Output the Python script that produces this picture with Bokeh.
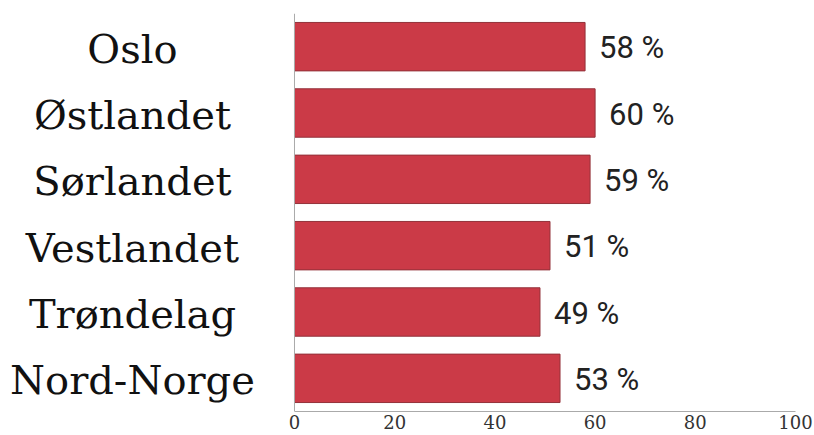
from bokeh.plotting import figure
from bokeh.models import FactorRange, Range1d, Span, ColumnDataSource, FixedTicker
from bokeh.core.properties import value
from bokeh.embed import file_html
from bokeh.resources import INLINE

regions = ["Oslo", "Østlandet", "Sørlandet", "Vestlandet", "Trøndelag", "Nord-Norge"]
shares = [58, 60, 59, 51, 49, 53]
tick_values = [0, 20, 40, 60, 80, 100]

labels = [f"{v} %" for v in shares]
LABEL_X = -32.34

src = ColumnDataSource(dict(region=regions, share=shares, label=labels,
                            lx=[LABEL_X] * len(regions)))

p = figure(width=814, height=435, output_backend="svg", toolbar_location=None,
           y_range=FactorRange(factors=regions[::-1], range_padding=0),
           x_range=Range1d(-58.68, 100),
           min_border_left=0, min_border_right=19, min_border_top=13,
           min_border_bottom=24)
p.outline_line_color = None
p.grid.visible = False
p.background_fill_color = "white"
p.border_fill_color = "white"

p.hbar(y="region", right="share", left=0, height=0.73, source=src,
       fill_color="#cb3a47", line_color="#93323a", line_width=1)

p.text(x="share", y="region", text="label", source=src, x_offset=14, y_offset=1,
       text_font=value("Roboto"), text_font_size="31px", text_color="#222222",
       text_align="left", text_baseline="middle")

p.text(x="lx", y="region", text="region", source=src, y_offset=2,
       text_font=value("DejaVu Serif"), text_font_size="40px", text_color="#111111",
       text_align="center", text_baseline="middle")

p.add_layout(Span(location=0, dimension="height", line_color="#aaaaaa", line_width=1))

p.yaxis.visible = False
xa = p.xaxis[0]
xa.bounds = (0, 100)
xa.ticker = FixedTicker(ticks=tick_values)
xa.axis_line_color = "#aaaaaa"
xa.major_tick_line_color = None
xa.minor_tick_line_color = None
xa.major_tick_out = 0
xa.major_tick_in = 0
xa.major_label_standoff = 3
xa.major_label_text_font = "DejaVu Serif"
xa.major_label_text_font_size = "18px"
xa.major_label_text_color = "#333333"

open("out.html", "w").write(file_html(p, INLINE))
